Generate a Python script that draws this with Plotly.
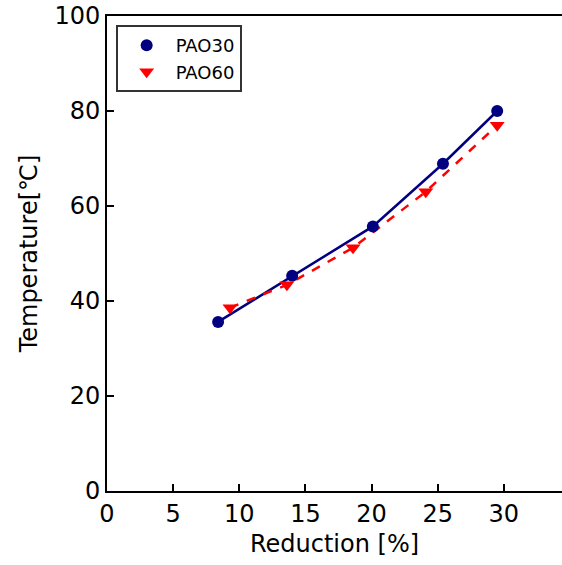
import plotly.graph_objects as go

# Data
pao30_x = [8.4, 14.0, 20.1, 25.4, 29.5]
pao30_y = [35.6, 45.3, 55.7, 68.9, 80.0]
pao60_x = [9.3, 13.6, 18.6, 24.1, 29.5]
pao60_y = [38.6, 43.4, 51.2, 63.0, 77.0]

x_ticks = [0, 5, 10, 15, 20, 25, 30]
y_ticks = [0, 20, 40, 60, 80, 100]

NAVY = "#000080"
RED = "#ff0000"

fig = go.Figure()
# lines (no legend)
fig.add_trace(go.Scatter(x=pao30_x, y=pao30_y, mode="lines",
                         line=dict(color=NAVY, width=2.5), showlegend=False, hoverinfo="skip"))
fig.add_trace(go.Scatter(x=pao60_x, y=pao60_y, mode="lines",
                         line=dict(color=RED, width=2.5, dash="dash"), showlegend=False, hoverinfo="skip"))
# markers (legend)
fig.add_trace(go.Scatter(x=pao30_x, y=pao30_y, mode="markers", name="PAO30",
                         marker=dict(symbol="circle", color=NAVY, size=12, line=dict(width=0))))
fig.add_trace(go.Scatter(x=pao60_x, y=pao60_y, mode="markers", name="PAO60",
                         marker=dict(symbol="triangle-down", color=RED, size=13, line=dict(width=0))))

axis_font = dict(family="DejaVu Sans", size=24, color="black")

fig.update_layout(
    width=562, height=565,
    margin=dict(l=107, r=0, t=16, b=74),
    paper_bgcolor="white", plot_bgcolor="white",
    font=dict(family="DejaVu Sans", color="black"),
    xaxis=dict(
        range=[0, 34.4], tickvals=x_ticks, ticktext=[str(v) for v in x_ticks],
        ticks="inside", ticklen=7, tickwidth=2, tickcolor="black",
        showline=True, linecolor="black", linewidth=2, mirror=True,
        showgrid=False, zeroline=False, tickfont=axis_font,
        title=dict(text="Reduction [%]", font=axis_font, standoff=8),
    ),
    yaxis=dict(
        range=[0, 100], tickvals=y_ticks, ticktext=[str(v) for v in y_ticks],
        ticks="inside", ticklen=7, tickwidth=2, tickcolor="black",
        showline=True, linecolor="black", linewidth=2, mirror=False,
        showgrid=False, zeroline=False, tickfont=axis_font,
        ticklabeloverflow="allow",
        title=dict(text="Temperature[℃]", font=axis_font, standoff=10),
    ),
    legend=dict(
        x=0.019, y=0.981, xanchor="left", yanchor="top",
        bgcolor="white", bordercolor="#333333", borderwidth=2,
        font=dict(family="DejaVu Sans", size=18, color="black"),
        itemwidth=48, tracegroupgap=2,
    ),
)

fig.write_html("out.html", config={"displayModeBar": False},
               post_script="document.body.style.margin='0px';")
